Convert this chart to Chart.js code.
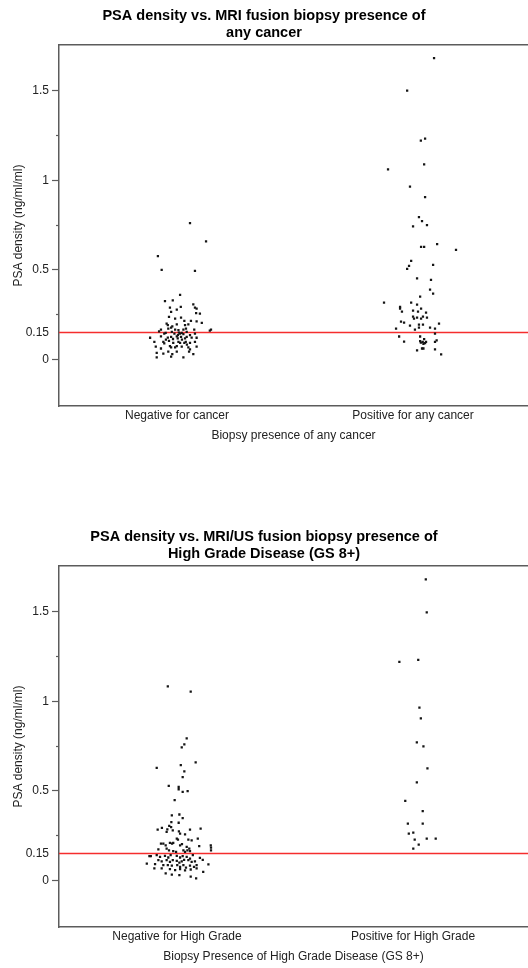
<!DOCTYPE html>
<html>
<head>
<meta charset="utf-8">
<script src="https://cdn.jsdelivr.net/npm/chart.js@4.4.0/dist/chart.umd.min.js"></script>
<style>
  html, body { margin: 0; padding: 0; background: #fff; overflow: hidden; }
  .box { position: absolute; left: 0; width: 528px; height: 447px; }
</style>
</head>
<body>
<div class="box" style="top:0"><canvas id="chart1"></canvas></div>
<div class="box" style="top:521px"><canvas id="chart2"></canvas></div>
<script>
// y axis
const yTicks = [0, 0.15, 0.5, 1, 1.5];
const yTickLabels = ['0', '0.15', '0.5', '1', '1.5'];
const yMinorTicks = [0.25, 0.75, 1.25];
const cutoff = 0.15;

// chart 1 - any cancer
const anyTitle = ['PSA density vs. MRI fusion biopsy presence of', 'any cancer'];
const anyCategories = ['Negative for cancer', 'Positive for any cancer'];
const anyAxisTitle = 'Biopsy presence of any cancer';
const negAnyValues = [0.761,0.659,0.576,0.5,0.494,0.361,0.326,0.329,0.289,0.278,
  0.293,0.307,0.289,0.283,0.265,0.259,0.256,0.237,0.228,0.233,
  0.215,0.215,0.213,0.204,0.2,0.191,0.185,0.196,0.191,0.196,
  0.167,0.172,0.178,0.167,0.163,0.167,0.167,0.167,0.161,0.144,
  0.148,0.154,0.144,0.15,0.144,0.148,0.141,0.154,0.135,0.144,
  0.121,0.129,0.122,0.126,0.129,0.117,0.126,0.117,0.126,0.122,
  0.121,0.098,0.098,0.089,0.104,0.093,0.098,0.093,0.093,0.098,
  0.093,0.098,0.071,0.061,0.074,0.067,0.067,0.074,0.071,0.067,
  0.056,0.071,0.037,0.033,0.043,0.029,0.043,0.043,0.029,0.011,
  0.015,0.011,0.136,0.111,0.083,0.114,0.156,0.172,0.111];
const negAnyJitter = [0.055,0.123,-0.081,-0.065,0.076,0.013,-0.051,-0.018,-0.030,-0.001,
  0.016,0.069,0.076,0.083,-0.025,0.081,0.097,-0.034,-0.008,0.017,
  0.031,0.059,0.083,0.105,-0.044,-0.039,-0.020,-0.001,0.034,0.048,
  -0.068,-0.037,-0.025,-0.008,0.006,0.027,0.073,0.144,0.139,-0.054,
  -0.048,-0.022,-0.011,0.008,0.013,0.020,0.027,0.041,0.055,0.076,
  -0.114,-0.068,-0.039,-0.025,-0.001,0.003,0.017,0.034,0.041,0.062,
  0.083,-0.096,-0.058,-0.054,-0.034,-0.016,0.006,0.013,0.031,0.037,
  0.055,0.076,-0.090,-0.068,-0.030,-0.025,-0.008,-0.001,0.020,0.048,
  0.055,0.083,-0.086,-0.058,-0.037,-0.020,-0.001,0.051,0.069,-0.086,
  -0.025,0.027,0.004,0.021,0.042,-0.017,-0.076,0.038,-0.047];
const posAnyValues = [1.682,1.5,1.222,1.232,1.089,1.061,0.965,0.906,0.794,0.772,
  0.743,0.75,0.628,0.628,0.644,0.611,0.55,0.522,0.506,0.528,
  0.452,0.444,0.389,0.367,0.35,0.317,0.294,0.283,0.317,0.306,
  0.267,0.272,0.267,0.283,0.261,0.239,0.228,0.233,0.228,0.239,
  0.233,0.211,0.206,0.189,0.194,0.194,0.178,0.2,0.172,0.167,
  0.178,0.172,0.144,0.128,0.128,0.1,0.113,0.098,0.094,0.091,
  0.087,0.098,0.098,0.106,0.05,0.061,0.061,0.056,0.028,0.102];
const posAnyJitter = [0.089,-0.025,0.033,0.051,0.047,-0.106,-0.013,0.051,0.025,0.038,
  0,0.059,0.034,0.047,0.102,0.182,-0.008,-0.017,-0.025,0.085,
  0.017,0.076,0.072,0.085,0.030,-0.123,-0.055,-0.055,-0.008,0.017,
  -0.047,0,0.021,0.034,0.055,0,0.004,0.017,0.034,0.042,
  0.059,-0.051,-0.038,-0.013,0.025,0.042,0.025,0.110,-0.072,0.008,
  0.072,0.093,0.093,-0.059,0.030,-0.038,0.047,0.041,0.033,0.051,
  0.044,0.055,0.093,0.1,0.017,0.038,0.044,0.093,0.119,0.030];

// chart 2 - high grade disease
const hgTitle = ['PSA density vs. MRI/US fusion biopsy presence of', 'High Grade Disease (GS 8+)'];
const hgCategories = ['Negative for High Grade', 'Positive for High Grade'];
const hgAxisTitle = 'Biopsy Presence of High Grade Disease (GS 8+)';
const negHgValues = [1.083,1.054,0.793,0.759,0.743,0.659,0.628,0.643,0.609,0.576,
  0.528,0.522,0.509,0.494,0.498,0.448,0.363,0.368,0.348,0.326,0.322,
  0.304,0.298,0.293,0.283,0.285,0.271,0.279,0.274,0.261,0.257,
  0.283,0.289,0.233,0.228,0.228,0.224,0.233,0.206,0.206,0.209,
  0.206,0.209,0.196,0.196,0.202,0.187,0.178,0.191,0.196,0.183,
  0.168,0.174,0.178,0.168,0.163,0.159,0.168,0.159,0.168,0.163,
  0.135,0.135,0.141,0.132,0.137,0.128,0.141,0.137,0.128,0.135,
  0.132,0.122,0.141,0.126,0.113,0.107,0.113,0.104,0.113,0.109,
  0.1,0.107,0.115,0.113,0.104,0.107,0.115,0.094,0.091,0.085,
  0.085,0.082,0.085,0.076,0.085,0.072,0.082,0.076,0.085,0.089,
  0.067,0.067,0.063,0.057,0.063,0.056,0.061,0.067,0.048,0.039,
  0.033,0.029,0.021,0.011];
const negHgJitter = [-0.039,0.058,0.041,0.031,0.020,0.079,-0.086,0.016,0.031,0.024,
  -0.035,0.007,0.007,0.024,0.045,-0.010,-0.022,0.010,0.024,-0.024,0.007,
  -0.033,-0.025,-0.064,-0.082,-0.041,-0.044,-0.018,0.008,0.013,0.034,
  0.055,0.100,-0.001,0.004,0.048,0.062,0.088,-0.068,-0.058,-0.030,
  -0.021,-0.016,-0.048,0.013,0.021,0.041,0.052,0.094,0.143,0.144,
  0.144,-0.079,-0.044,-0.034,-0.016,-0.004,0.027,0.034,0.044,0.055,
  -0.117,-0.111,-0.086,-0.072,-0.051,-0.037,-0.027,-0.001,0.013,0.024,
  0.041,0.055,0.067,0.097,-0.079,-0.065,-0.044,-0.030,-0.018,-0.001,
  0.010,0.020,0.030,0.048,0.062,0.076,0.109,-0.128,-0.093,-0.058,
  -0.039,-0.022,0.001,0.013,0.027,0.038,0.055,0.072,0.083,0.133,
  -0.096,-0.065,-0.030,-0.008,0.013,0.034,0.058,0.083,0.111,-0.048,
  -0.022,0.010,0.058,0.081];
const posHgValues = [1.68,1.496,1.22,1.231,0.965,0.904,0.77,0.748,0.626,0.548,
  0.444,0.387,0.317,0.317,0.261,0.267,0.228,0.233,0.233,0.2,0.178];
const posHgJitter = [0.054,0.058,-0.058,0.022,0.027,0.033,0.016,0.044,0.061,0.016,
  -0.033,0.041,-0.022,0.041,-0.018,0.001,0.007,0.058,0.096,0.024,0.001];

const AXIS = '#5c5c5c';
const FONT = 'Liberation Sans, Arial, sans-serif';
Chart.defaults.font.family = FONT;

function makeChart(id, title, labels, xTitle, groups) {
  var datasets = groups.map(function (g, i) {
    return {
      data: g.values.map(function (v, k) { return {x: i + g.jitter[k], y: v}; }),
      pointStyle: 'rect',
      pointRadius: 1.6,
      pointBorderWidth: 0,
      backgroundColor: '#151515',
      borderColor: '#151515'
    };
  });
  // cutoff line
  datasets.push({
    data: [{x: -0.5, y: cutoff}, {x: 1.5, y: cutoff}],
    showLine: true,
    pointRadius: 0,
    borderColor: 'rgb(245,45,45)',
    borderWidth: 1.5
  });

  var tickFont = {size: 12};
  new Chart(document.getElementById(id).getContext('2d'), {
    type: 'scatter',
    data: {datasets: datasets},
    options: {
      responsive: true,
      maintainAspectRatio: false,
      animation: false,
      devicePixelRatio: 1,
      // plot runs right up to the canvas edge, like the original
      layout: {padding: 0, autoPadding: false},
      plugins: {
        legend: {display: false},
        tooltip: {enabled: false},
        title: {
          display: true,
          text: title,
          color: '#000',
          font: {size: 14.5, weight: 'bold', lineHeight: 1.17},
          padding: {top: 7.5, bottom: 3.5}
        }
      },
      scales: {
        x: {
          type: 'linear',
          position: 'bottom',
          min: -0.5,
          max: 1.487,
          afterBuildTicks: function (s) { s.ticks = [{value: 0}, {value: 1}]; },
          ticks: {
            autoSkip: false, maxRotation: 0, padding: 2, color: '#222', font: tickFont,
            callback: function (v, i) { return labels[i]; }
          },
          grid: {display: false, drawTicks: false},
          border: {display: true, color: AXIS, width: 1.5},
          title: {display: true, text: xTitle, color: '#222', font: tickFont, padding: {top: 4, bottom: 4}}
        },
        xTop: {
          type: 'linear',
          position: 'top',
          ticks: {display: false},
          grid: {display: false, drawTicks: false},
          border: {display: true, color: AXIS, width: 1.5}
        },
        y: {
          type: 'linear',
          position: 'left',
          weight: 1,
          min: -0.2611,
          max: 1.7556,
          afterBuildTicks: function (s) { s.ticks = yTicks.map(function (v) { return {value: v}; }); },
          ticks: {
            autoSkip: false, padding: 3, color: '#222', font: tickFont,
            callback: function (v, i) { return yTickLabels[i]; }
          },
          grid: {
            drawOnChartArea: false,
            tickLength: 7,
            tickWidth: 1.2,
            tickColor: function (c) { return c.tick && c.tick.value === cutoff ? 'rgba(0,0,0,0)' : AXIS; }
          },
          border: {display: true, color: AXIS, width: 1.5},
          title: {display: true, text: 'PSA density (ng/ml/ml)', color: '#222', font: tickFont, padding: {top: 11, bottom: 0}},
          afterFit: function (s) { s.width = 59; }
        },
        yMinor: {
          type: 'linear',
          position: 'left',
          weight: 0,
          min: -0.2611,
          max: 1.7556,
          afterBuildTicks: function (s) { s.ticks = yMinorTicks.map(function (v) { return {value: v}; }); },
          ticks: {display: false},
          grid: {drawOnChartArea: false, tickLength: 3, tickWidth: 1.2, tickColor: AXIS},
          border: {display: false},
          afterFit: function (s) { s.width = 0; }
        }
      }
    }
  });
}

makeChart('chart1', anyTitle, anyCategories, anyAxisTitle, [
  {values: negAnyValues, jitter: negAnyJitter},
  {values: posAnyValues, jitter: posAnyJitter}
]);
makeChart('chart2', hgTitle, hgCategories, hgAxisTitle, [
  {values: negHgValues, jitter: negHgJitter},
  {values: posHgValues, jitter: posHgJitter}
]);
</script>
</body>
</html>
